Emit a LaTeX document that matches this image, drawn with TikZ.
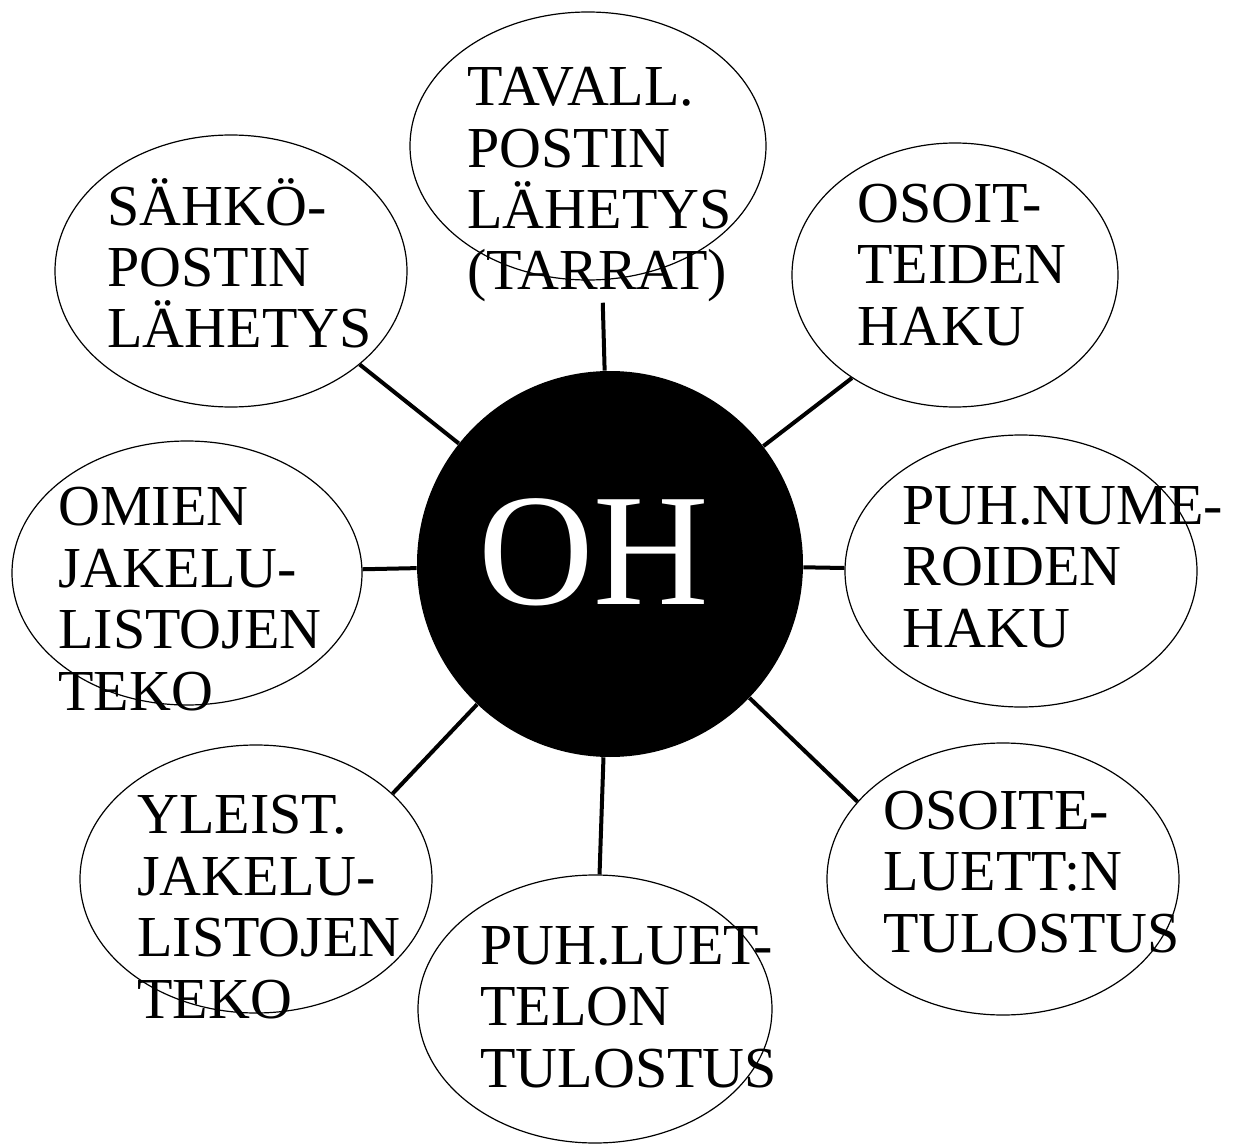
\documentclass[tikz,border=0pt]{standalone}
\usepackage{fontspec}
\setmainfont{Liberation Serif}
\usetikzlibrary{shapes.geometric}

\begin{document}
\begin{tikzpicture}[x=0.5pt,y=-0.5pt,
  bubble/.style={draw,ellipse,line width=0.6pt,inner sep=0pt},
  bubtext/.style={anchor=base west,align=left,inner sep=0pt,
    font=\fontsize{29}{30.75}\selectfont},
  spoke/.style={line width=2pt}]
  \useasboundingbox (0,0) rectangle (1239,1145);
  % keskus
  \node[circle,fill=black,minimum size=193pt,inner sep=0pt] (hub) at (610,564) {};
  \node[text=white,inner sep=0pt,font=\fontsize{80}{82}\selectfont] (hubtxt) at (594,552) {OH};
  % kuplat
  \node[bubble,minimum width=178pt,minimum height=134pt] (tavall) at (588,146) {};
  \node[bubble,minimum width=176pt,minimum height=136pt] (sahko) at (231,271) {};
  \node[bubble,minimum width=163pt,minimum height=132pt] (osoit) at (955,275) {};
  \node[bubble,minimum width=175pt,minimum height=132pt] (omien) at (187,573) {};
  \node[bubble,minimum width=176pt,minimum height=136pt] (puhnum) at (1021,571) {};
  \node[bubble,minimum width=176pt,minimum height=136pt] (osoite) at (1003,879) {};
  \node[bubble,minimum width=177pt,minimum height=134pt] (puhluet) at (595,1009) {};
  \node[bubble,minimum width=176pt,minimum height=134pt] (yleist) at (256,879) {};
  % tekstit
  \node[bubtext] (tavall-t) at (467,290) {TAVALL.\\POSTIN\\LÄHETYS\\(TARRAT)};
  \node[bubtext] (sahko-t) at (107,348) {SÄHKÖ-\\POSTIN\\LÄHETYS};
  \node[bubtext] (osoit-t) at (857,345) {OSOIT-\\TEIDEN\\HAKU};
  \node[bubtext] (omien-t) at (58,710) {OMIEN\\JAKELU-\\LISTOJEN\\TEKO};
  \node[bubtext] (puhnum-t) at (902,647) {PUH.NUME-\\ROIDEN\\HAKU};
  \node[bubtext] (osoite-t) at (883,952) {OSOITE-\\LUETT:N\\TULOSTUS};
  \node[bubtext] (puhluet-t) at (480,1087) {PUH.LUET-\\TELON\\TULOSTUS};
  \node[bubtext] (yleist-t) at (137,1018) {YLEIST.\\JAKELU-\\LISTOJEN\\TEKO};
  % yhteydet
  \draw[spoke] (hub) -- (tavall-t);
  \draw[spoke] (hub) -- (sahko.324);
  \draw[spoke] (hub) -- (osoit.225);
  \draw[spoke] (hub) -- (omien);
  \draw[spoke] (hub) -- (puhnum);
  \draw[spoke] (hub) -- (osoite.152);
  \draw[spoke] (hub) -- (puhluet);
  \draw[spoke] (hub) -- (yleist.32);
\end{tikzpicture}
\end{document}
